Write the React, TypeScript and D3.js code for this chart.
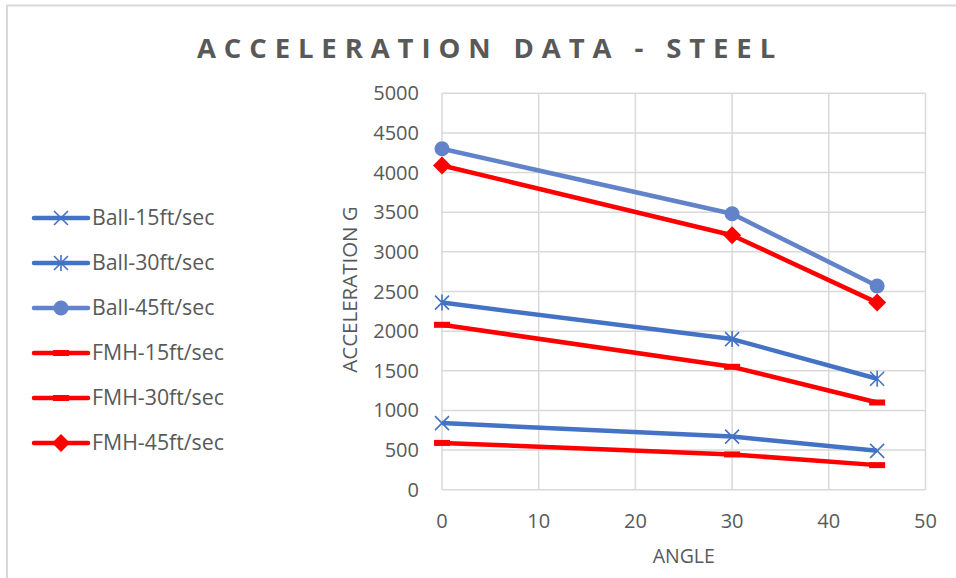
import React from "react";
import * as d3 from "d3";

// Impact angle (degrees) on the x axis
const angles = [0, 30, 45];

// Peak acceleration (G) per series
const ball15 = [840, 670, 490];
const ball30 = [2360, 1900, 1400];
const ball45 = [4300, 3480, 2570];
const fmh15 = [590, 445, 310];
const fmh30 = [2080, 1550, 1100];
const fmh45 = [4090, 3210, 2360];

const xTicks = [0, 10, 20, 30, 40, 50];
const yTicks = [0, 500, 1000, 1500, 2000, 2500, 3000, 3500, 4000, 4500, 5000];

type Marker = "x" | "star" | "circle" | "dash" | "diamond";

const seriesNames = [
  "Ball-15ft/sec",
  "Ball-30ft/sec",
  "Ball-45ft/sec",
  "FMH-15ft/sec",
  "FMH-30ft/sec",
  "FMH-45ft/sec",
];
const seriesValues = [ball15, ball30, ball45, fmh15, fmh30, fmh45];
const seriesColors = ["#4472C4", "#4472C4", "#6283C9", "#FF0000", "#FF0000", "#FF0000"];
const seriesMarkers: Marker[] = ["x", "star", "circle", "dash", "dash", "diamond"];

const W = 956;
const H = 578;
const plot = { left: 442, right: 925.5, top: 93.3, bottom: 489.7 };
const FONT = "'Open Sans', 'Liberation Sans', sans-serif";
const TEXT = "#595959";
const GRID = "#D9D9D9";

function MarkerShape({ type, x, y, color }: { type: Marker; x: number; y: number; color: string }) {
  const s = 7;
  switch (type) {
    case "x":
      return (
        <path
          d={`M${x - s},${y - s}L${x + s},${y + s}M${x - s},${y + s}L${x + s},${y - s}`}
          stroke={color}
          strokeWidth={1.6}
          fill="none"
        />
      );
    case "star":
      return (
        <path
          d={`M${x - s},${y - s}L${x + s},${y + s}M${x - s},${y + s}L${x + s},${y - s}M${x},${y - s - 1}L${x},${y + s + 1}`}
          stroke={color}
          strokeWidth={1.6}
          fill="none"
        />
      );
    case "circle":
      return <circle cx={x} cy={y} r={7.5} fill={color} />;
    case "dash":
      return <rect x={x - 8} y={y - 3} width={16} height={6} fill={color} />;
    case "diamond":
      return (
        <path d={`M${x},${y - 9}L${x + 9},${y}L${x},${y + 9}L${x - 9},${y}Z`} fill={color} />
      );
  }
}

export default function App() {
  const x = d3.scaleLinear().domain([0, 50]).range([plot.left, plot.right]);
  const y = d3.scaleLinear().domain([0, 5000]).range([plot.bottom, plot.top]);

  const line = d3
    .line<[number, number]>()
    .x((d) => x(d[0]))
    .y((d) => y(d[1]));

  const legendX0 = 34;
  const legendX1 = 88;
  const legendY0 = 218;
  const legendStep = 45;

  return (
    <svg
      width={W}
      height={H}
      style={{ position: "absolute", left: 0, top: 0, background: "#fff" }}
      fontFamily={FONT}
    >
      <rect x={0} y={0} width={W} height={H} fill="#fff" />
      {/* chart border */}
      <path d={`M7,${H}L7,5.5L${W},5.5`} stroke={GRID} strokeWidth={2} fill="none" />

      {/* title */}
      <text
        x={490}
        y={58}
        textAnchor="middle"
        fontSize={27.5}
        fontWeight={700}
        letterSpacing={7.9}
        fill={TEXT}
      >
        ACCELERATION DATA - STEEL
      </text>

      {/* grid */}
      {yTicks.map((t) => (
        <line key={"gy" + t} x1={plot.left} x2={plot.right} y1={y(t)} y2={y(t)} stroke={GRID} strokeWidth={1.5} />
      ))}
      {xTicks.map((t) => (
        <line key={"gx" + t} x1={x(t)} x2={x(t)} y1={plot.top} y2={plot.bottom} stroke={GRID} strokeWidth={1.5} />
      ))}

      {/* tick labels */}
      {yTicks.map((t) => (
        <text key={"ty" + t} x={419} y={y(t) + 7} textAnchor="end" fontSize={20} fill={TEXT}>
          {t}
        </text>
      ))}
      {xTicks.map((t) => (
        <text key={"tx" + t} x={x(t)} y={528} textAnchor="middle" fontSize={20} fill={TEXT}>
          {t}
        </text>
      ))}

      {/* axis titles */}
      <text x={x(25)} y={563} textAnchor="middle" fontSize={19.5} fill={TEXT}>
        ANGLE
      </text>
      <text
        transform={`translate(357,${(plot.top + plot.bottom) / 2 - 2}) rotate(-90)`}
        textAnchor="middle"
        fontSize={20.5}
        fill={TEXT}
      >
        ACCELERATION G
      </text>

      {/* series */}
      {seriesValues.map((vals, i) => {
        const pts: [number, number][] = angles.map((a, j) => [a, vals[j]]);
        return (
          <g key={"s" + i}>
            <path
              d={line(pts) || ""}
              stroke={seriesColors[i]}
              strokeWidth={4.5}
              fill="none"
              strokeLinejoin="round"
            />
            {pts.map((p, j) => (
              <MarkerShape key={j} type={seriesMarkers[i]} x={x(p[0])} y={y(p[1])} color={seriesColors[i]} />
            ))}
          </g>
        );
      })}

      {/* legend */}
      {seriesNames.map((name, i) => {
        const ly = legendY0 + i * legendStep;
        return (
          <g key={"l" + i}>
            <line x1={legendX0} x2={legendX1} y1={ly} y2={ly} stroke={seriesColors[i]} strokeWidth={4.5} strokeLinecap="round" />
            <MarkerShape type={seriesMarkers[i]} x={(legendX0 + legendX1) / 2} y={ly} color={seriesColors[i]} />
            <text x={92} y={ly + 7} fontSize={21.3} fill={TEXT}>
              {name}
            </text>
          </g>
        );
      })}
    </svg>
  );
}
